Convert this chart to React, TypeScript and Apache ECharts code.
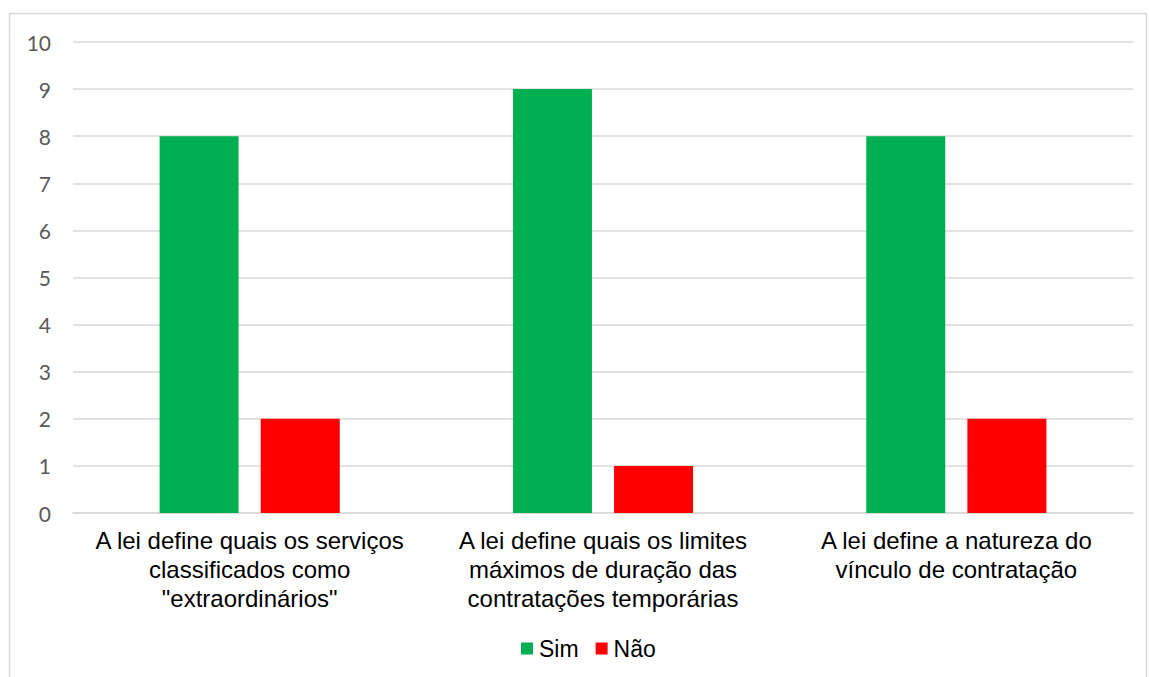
import React, { useEffect, useRef } from "react";
import * as echarts from "echarts";

const categories = [
  'A lei define quais os serviços\nclassificados como\n"extraordinários"',
  "A lei define quais os limites\nmáximos de duração das\ncontratações temporárias",
  "A lei define a natureza do\nvínculo de contratação",
];
const simValues = [8, 9, 8];
const naoValues = [2, 1, 2];
const seriesNames = ["Sim", "Não"];
const seriesColors = ["#00b050", "#ff0000"];

export default function App() {
  const ref = useRef<HTMLDivElement>(null);

  useEffect(() => {
    if (!ref.current) return;
    const chart = echarts.init(ref.current, undefined, { renderer: "svg" });
    chart.setOption({
      animation: false,
      backgroundColor: "#ffffff",
      graphic: [
        {
          type: "rect",
          shape: { x: 9.5, y: 13.5, width: 1137, height: 680 },
          style: { fill: "none", stroke: "#d9d9d9", lineWidth: 1.5 },
          silent: true,
        },
      ],
      grid: { left: 73, right: 16, top: 42, bottom: 164 },
      legend: {
        top: 632,
        left: 516,
        itemWidth: 12,
        itemHeight: 12,
        itemGap: 17,
        icon: "rect",
        textStyle: { fontFamily: "Liberation Sans", fontSize: 23, color: "#000000", padding: [0, 0, 0, 1] },
        data: seriesNames,
      },
      xAxis: {
        type: "category",
        data: categories,
        axisLine: { show: true, lineStyle: { color: "#d9d9d9", width: 1.5 } },
        axisTick: { show: false },
        axisLabel: {
          interval: 0,
          margin: 13,
          fontFamily: "Liberation Sans",
          fontSize: 24,
          lineHeight: 29,
          color: "#000000",
          align: "center",
        },
      },
      yAxis: {
        type: "value",
        min: 0,
        max: 10,
        interval: 1,
        axisLine: { show: false },
        axisTick: { show: false },
        splitLine: { lineStyle: { color: "#d9d9d9", width: 1.5 } },
        axisLabel: {
          margin: 22,
          fontFamily: "Lato",
          fontSize: 21,
          color: "#595959",
        },
      },
      series: [
        {
          name: seriesNames[0],
          type: "bar",
          data: simValues,
          barWidth: 79,
          barGap: "28%",
          itemStyle: { color: seriesColors[0] },
        },
        {
          name: seriesNames[1],
          type: "bar",
          data: naoValues,
          barWidth: 79,
          barGap: "28%",
          itemStyle: { color: seriesColors[1] },
        },
      ],
    });
    return () => chart.dispose();
  }, []);

  return (
    <div
      ref={ref}
      style={{ position: "fixed", left: 0, top: 0, width: 1149, height: 677 }}
    />
  );
}
